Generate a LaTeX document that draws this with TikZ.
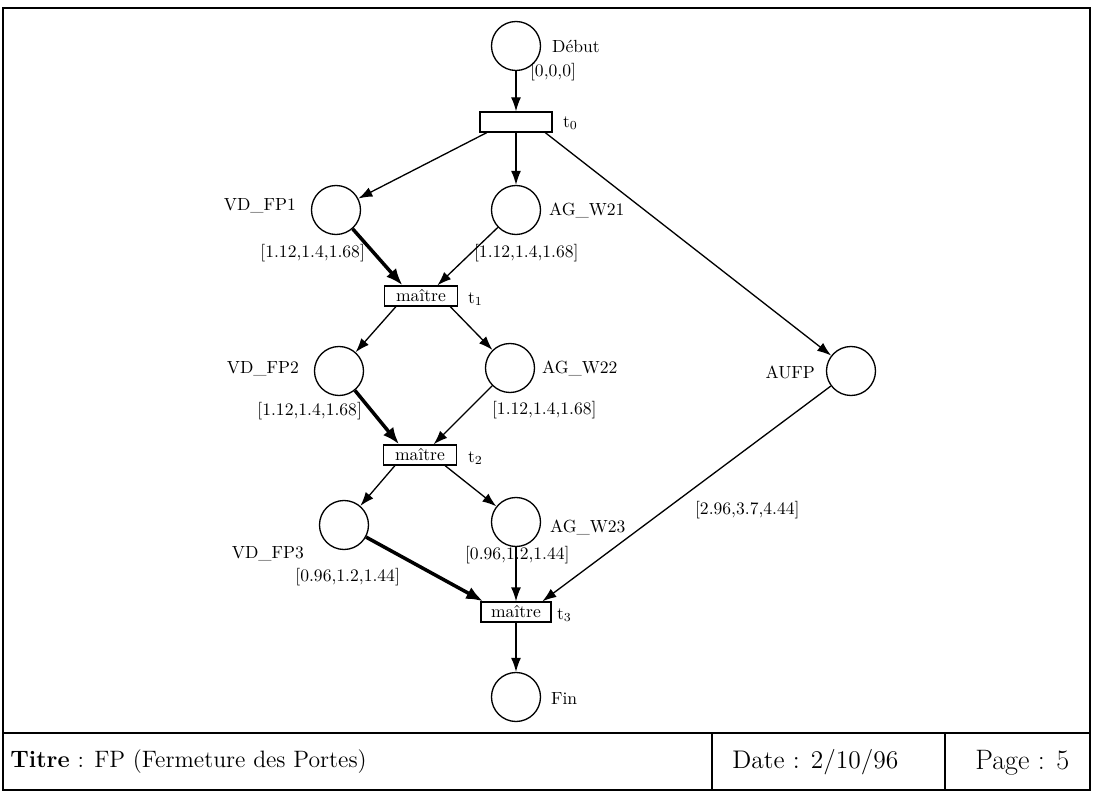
\documentclass[tikz,border=0pt]{standalone}
\usepackage{fontspec}
\usepackage{tikz}
\usetikzlibrary{arrows.meta,positioning}
\tikzset{
  placeBox/.style={draw, circle, minimum size=0.98cm, inner sep=0pt, line width=0.75pt},
  transBox/.style={draw, rectangle, minimum width=1.45cm, minimum height=0.4cm, inner sep=1pt, line width=0.75pt, font=\fontsize{10}{12}\selectfont},
  arcArrow/.style={-{Latex[length=2.8mm,width=2mm]}, line width=0.75pt},
  heavyArrow/.style={-{Latex[length=3.4mm,width=2.6mm]}, line width=2pt},
  arcLabel/.style={font=\fontsize{10}{12}\selectfont, inner sep=1pt},
  footLabel/.style={font=\fontsize{13.5}{15}\selectfont, inner sep=0pt}
}
\begin{document}
\begin{tikzpicture}[x=0.02cm,y=-0.02cm]
  \useasboundingbox (0,0) rectangle (1093,793);
  % frame and title block
  \draw[line width=1pt] (3,8) rectangle (1090,790);
  \draw[line width=1pt] (3,733) -- (1090,733);
  \draw[line width=1pt] (712,733) -- (712,790);
  \draw[line width=1pt] (945,733) -- (945,790);
  \node[footLabel, anchor=west] (titre) at (10,762){\textbf{Titre} : FP (Fermeture des Portes)};
  \node[footLabel, anchor=west, font=\fontsize{14.5}{16}\selectfont] (date) at (732,762){Date : 2/10/96};
  \node[footLabel, anchor=west, font=\fontsize{16}{18}\selectfont] (page) at (975,763){Page : 5};

  % places
  \node[placeBox] (debut) at (516,46){};
  \node[placeBox] (vdfp1) at (336,210){};
  \node[placeBox] (agw21) at (516,210){};
  \node[placeBox] (vdfp2) at (339,371){};
  \node[placeBox] (agw22) at (510,368){};
  \node[placeBox] (vdfp3) at (344,525){};
  \node[placeBox] (agw23) at (516,522){};
  \node[placeBox] (aufp) at (851,371){};
  \node[placeBox] (fin) at (516,697){};

  % transitions
  \node[transBox, minimum width=1.44cm] (t0) at (516,122){};
  \node[transBox] (t1) at (421,296){maître};
  \node[transBox] (t2) at (420,455){maître};
  \node[transBox, minimum width=1.4cm] (t3) at (516,612){maître};

  % names
  \node[arcLabel, anchor=west] (ldebut) at (550,46){Début};
  \node[arcLabel, anchor=east] (lvdfp1) at (298,206){VD\_FP1};
  \node[arcLabel, anchor=west] (lagw21) at (547,210){AG\_W21};
  \node[arcLabel, anchor=east] (lvdfp2) at (301,369){VD\_FP2};
  \node[arcLabel, anchor=west] (lagw22) at (540,368){AG\_W22};
  \node[arcLabel, anchor=east] (lvdfp3) at (306,554){VD\_FP3};
  \node[arcLabel, anchor=west] (lagw23) at (548,527){AG\_W23};
  \node[arcLabel, anchor=east] (laufp) at (817,372){AUFP};
  \node[arcLabel, anchor=west] (lfin) at (549,699){Fin};
  \node[arcLabel, anchor=west] (lt0) at (561,123){t$_0$};
  \node[arcLabel, anchor=west] (lt1) at (466,299){t$_1$};
  \node[arcLabel, anchor=west] (lt2) at (466,458){t$_2$};
  \node[arcLabel, anchor=west] (lt3) at (555,615){t$_3$};

  % intervals
  \node[arcLabel, anchor=west] (iv0) at (528,72){[0,0,0]};
  \node[arcLabel, anchor=east] (iv1a) at (367,253){[1.12,1.4,1.68]};
  \node[arcLabel, anchor=west] (iv1b) at (472,253){[1.12,1.4,1.68]};
  \node[arcLabel, anchor=east] (iv2a) at (364,411){[1.12,1.4,1.68]};
  \node[arcLabel, anchor=west] (iv2b) at (490,410){[1.12,1.4,1.68]};
  \node[arcLabel, anchor=east] (iv3a) at (402,577){[0.96,1.2,1.44]};
  \node[arcLabel, anchor=west] (iv3b) at (463,555){[0.96,1.2,1.44]};
  \node[arcLabel, anchor=west] (ivu) at (693,510){[2.96,3.7,4.44]};

  % arcs
  \draw[arcArrow] (debut) -- (t0);
  \draw[arcArrow] (t0.200) -- (vdfp1);
  \draw[arcArrow] (t0) -- (agw21);
  \draw[arcArrow] (t0.-20) -- (aufp);
  \draw[heavyArrow] (vdfp1) -- (t1.150);
  \draw[arcArrow] (agw21) -- (t1.33);
  \draw[arcArrow] (t1.203) -- (vdfp2);
  \draw[arcArrow] (t1.340) -- (agw22);
  \draw[heavyArrow] (vdfp2) -- (t2.153);
  \draw[arcArrow] (agw22) -- (t2.38);
  \draw[arcArrow] (t2.203) -- (vdfp3);
  \draw[arcArrow] (t2.337) -- (agw23);
  \draw[heavyArrow] (vdfp3) -- (t3.162);
  \draw[arcArrow] (agw23) -- (t3);
  \draw[arcArrow] (aufp) -- (t3.22);
  \draw[arcArrow] (t3) -- (fin);
\end{tikzpicture}
\end{document}
